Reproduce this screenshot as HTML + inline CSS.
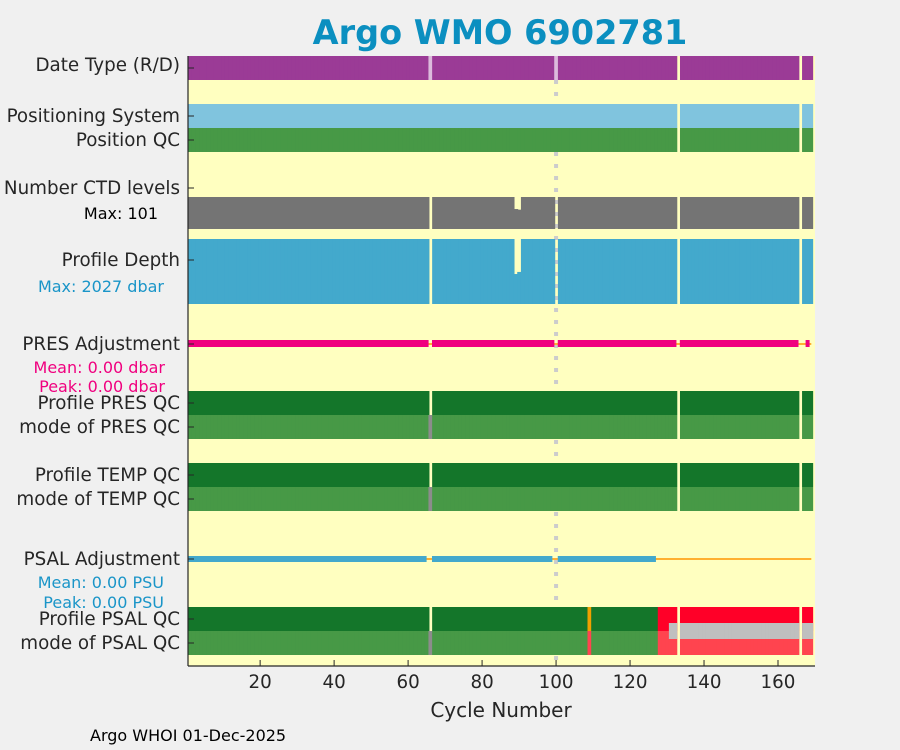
<!DOCTYPE html>
<html><head><meta charset="utf-8"><style>
body{margin:0;background:#f0f0f0;}
svg{display:block;font-family:"DejaVu Sans","Liberation Sans",sans-serif;}
</style></head><body>
<svg id="chart" width="900" height="750" viewBox="0 0 900 750">
<rect width="900" height="750" fill="#f0f0f0"/>
<text x="500" y="44" text-anchor="middle" font-size="33.5" font-weight="bold" fill="#0b8fc0">Argo WMO 6902781</text>
<rect x="188" y="56" width="627" height="610" fill="#ffffc0"/>
<g id="marks"></g>
<g font-size="18.3" fill="#262626" text-anchor="end">
<text x="180" y="71">Date Type (R/D)</text>
<text x="180" y="122">Positioning System</text>
<text x="180" y="146">Position QC</text>
<text x="180" y="194">Number CTD levels</text>
<text x="158" y="219" font-size="16" fill="#000">Max: 101</text>
<text x="180" y="266">Profile Depth</text>
<text x="164" y="292" font-size="16" fill="#1a95c8">Max: 2027 dbar</text>
<text x="180" y="350">PRES Adjustment</text>
<text x="165" y="373" font-size="16" fill="#f0007f">Mean: 0.00 dbar</text>
<text x="165" y="392" font-size="16" fill="#f0007f">Peak: 0.00 dbar</text>
<text x="180" y="409">Profile PRES QC</text>
<text x="180" y="433">mode of PRES QC</text>
<text x="180" y="481">Profile TEMP QC</text>
<text x="180" y="505">mode of TEMP QC</text>
<text x="180" y="565">PSAL Adjustment</text>
<text x="164" y="588" font-size="16" fill="#1a95c8">Mean: 0.00 PSU</text>
<text x="164" y="608" font-size="16" fill="#1a95c8">Peak: 0.00 PSU</text>
<text x="180" y="625">Profile PSAL QC</text>
<text x="180" y="649">mode of PSAL QC</text>
</g>
<line x1="188" y1="56" x2="188" y2="666" stroke="#262626" stroke-width="1.2"/>
<line x1="188" y1="666" x2="815" y2="666" stroke="#262626" stroke-width="1.2"/>
<g id="ticks" font-size="18.3" fill="#262626" text-anchor="middle"></g>
<text x="501" y="717" text-anchor="middle" font-size="20" fill="#262626">Cycle Number</text>
<text x="90" y="741" font-size="16" fill="#000">Argo WHOI 01-Dec-2025</text>
</svg>
<script>
const xTicks = [20, 40, 60, 80, 100, 120, 140, 160];
const lastCycle = 169;
const gapsDate = [66, 100, 133, 166];
const lavenderGaps = [66, 100];
const gapsPosition = [133, 166];
const gapsQC = [66, 133, 166];
const ctdLevels = [
101,101,101,101,101,101,101,101,101,101,
101,101,101,101,101,101,101,101,101,101,
101,101,101,101,101,101,101,101,101,101,
101,101,101,101,101,101,101,101,101,101,
101,101,101,101,101,101,101,101,101,101,
101,101,101,101,101,101,101,101,101,101,
101,101,101,101,101,null,101,101,101,101,
101,101,101,101,101,101,101,101,101,101,
101,101,101,101,101,101,101,101,63,61,
101,101,101,101,101,101,101,101,101,null,
101,101,101,101,101,101,101,101,101,101,
101,101,101,101,101,101,101,101,101,101,
101,101,101,101,101,101,101,101,101,101,
101,101,null,101,101,101,101,101,101,101,
101,101,101,101,101,101,101,101,101,101,
101,101,101,101,101,101,101,101,101,101,
101,101,101,101,101,null,101,101,101];
const profileDepth = [
2027,2027,2027,2027,2027,2027,2027,2027,2027,2027,
2027,2027,2027,2027,2027,2027,2027,2027,2027,2027,
2027,2027,2027,2027,2027,2027,2027,2027,2027,2027,
2027,2027,2027,2027,2027,2027,2027,2027,2027,2027,
2027,2027,2027,2027,2027,2027,2027,2027,2027,2027,
2027,2027,2027,2027,2027,2027,2027,2027,2027,2027,
2027,2027,2027,2027,2027,null,2027,2027,2027,2027,
2027,2027,2027,2027,2027,2027,2027,2027,2027,2027,
2027,2027,2027,2027,2027,2027,2027,2027,935,1000,
2027,2027,2027,2027,2027,2027,2027,2027,2027,null,
2027,2027,2027,2027,2027,2027,2027,2027,2027,2027,
2027,2027,2027,2027,2027,2027,2027,2027,2027,2027,
2027,2027,2027,2027,2027,2027,2027,2027,2027,2027,
2027,2027,null,2027,2027,2027,2027,2027,2027,2027,
2027,2027,2027,2027,2027,2027,2027,2027,2027,2027,
2027,2027,2027,2027,2027,2027,2027,2027,2027,2027,
2027,2027,2027,2027,2027,null,2027,2027,2027];
const presAdjRuns = [[1,65],[67,99],[101,132],[134,165],[168,168]];
const psalAdjRuns = [[1,65],[67,99],[101,127]];
const psalBadStart = 128;
const psalGrayStart = 131;
const psalProbeCycle = 109;

const NS = "http://www.w3.org/2000/svg";
const marks = document.getElementById('marks');
const ticksG = document.getElementById('ticks');
const x = c => 188 + (c - 0.5) * (627 / 169.5);
function mk(tag, attrs, parent) {
  const e = document.createElementNS(NS, tag);
  for (const k in attrs) e.setAttribute(k, attrs[k]);
  (parent || marks).appendChild(e);
  return e;
}
function bar(c, y, h, fill) {
  const w = x(c + 0.5) - x(c - 0.5) + (c < lastCycle ? 1 : 0);
  const e = mk('rect', {x: x(c - 0.5), y: y, width: w, height: h, fill: fill});
  
  
  return e;
}
const dl = mk('line', {x1: x(100), y1: 56, x2: x(100), y2: 666, stroke: '#cccccc', 'stroke-width': 4, 'stroke-dasharray': '4 8'});



for (let c = 1; c <= lastCycle; c++) {
  if (gapsDate.includes(c)) { if (lavenderGaps.includes(c)) bar(c, 56, 24, '#dcbadc'); }
  else bar(c, 56, 24, '#9b3b96');
  if (!gapsPosition.includes(c)) { bar(c, 104, 24, '#80c4de'); bar(c, 128, 24, '#479946'); }
  const v = ctdLevels[c - 1];
  if (v != null) { const h = 32 * v / 101; bar(c, 229 - h, h, '#747474'); }
  const d = profileDepth[c - 1];
  if (d != null) { const h = 65 * d / 2027; bar(c, 304 - h, h, '#43a9cc'); }
  if (gapsQC.includes(c)) {
    if (c === 66) { bar(c, 415, 24, '#8c8c8c'); bar(c, 487, 24, '#8c8c8c'); bar(c, 631, 24, '#8c8c8c'); }
    continue;
  }
  bar(c, 391, 24, '#14762a'); bar(c, 415, 24, '#479946');
  bar(c, 463, 24, '#14762a'); bar(c, 487, 24, '#479946');
  if (c >= psalBadStart) { bar(c, 607, 24, '#ff0028'); bar(c, 631, 24, '#ff444f'); }
  else if (c === psalProbeCycle) { bar(c, 607, 24, '#f0a000'); bar(c, 631, 24, '#ff444f'); }
  else { bar(c, 607, 24, '#14762a'); bar(c, 631, 24, '#479946'); }
}
// gray band drawn per cycle after base rows to avoid seams
for (let c = psalGrayStart; c <= lastCycle; c++) {
  if (!gapsQC.includes(c)) bar(c, 623, 16, '#bfbfbf');
}
const po = mk('line', {x1: x(1), y1: 344, x2: x(lastCycle), y2: 344, stroke: '#ffb030', 'stroke-width': 2});


presAdjRuns.forEach(r => {
  const e = mk('rect', {x: x(r[0]) - 2, y: 340, width: x(r[1]) - x(r[0]) + 4, height: 7, fill: '#f0007f'});
  
  
});
const so = mk('line', {x1: x(1), y1: 559, x2: x(lastCycle), y2: 559, stroke: '#ffb030', 'stroke-width': 2});


psalAdjRuns.forEach(r => {
  const e = mk('rect', {x: x(r[0]) - 2, y: 556, width: x(r[1]) - x(r[0]) + 2, height: 6, fill: '#43a9cc'});
  
  
});
[68, 116, 140, 188, 260, 344, 403, 427, 475, 499, 559, 619, 643].forEach(y => {
  const t = mk('line', {x1: 188, y1: y, x2: 194, y2: y, stroke: '#262626', 'stroke-width': 1}, document.getElementById('chart'));
  
  
});
xTicks.forEach(v => {
  const t = mk('line', {x1: x(v), y1: 660, x2: x(v), y2: 666, stroke: '#262626', 'stroke-width': 1}, ticksG);
  
  
  const l = mk('text', {x: x(v), y: 688}, ticksG);
  l.textContent = v;
  
  
});
</script>
</body></html>
